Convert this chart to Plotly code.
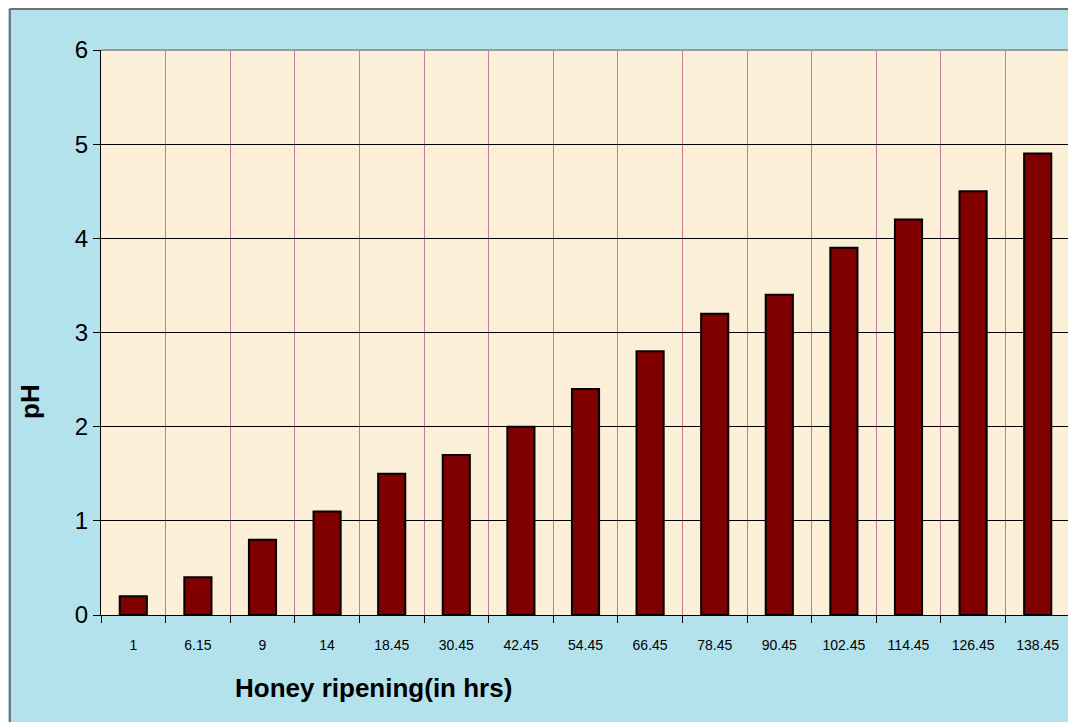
import plotly.graph_objects as go

hours = ["1", "6.15", "9", "14", "18.45", "30.45", "42.45", "54.45",
         "66.45", "78.45", "90.45", "102.45", "114.45", "126.45", "138.45"]
ph = [0.2, 0.4, 0.8, 1.1, 1.5, 1.7, 2.0, 2.4, 2.8, 3.2, 3.4, 3.9, 4.2, 4.5, 4.9]
y_ticks = [0, 1, 2, 3, 4, 5, 6]

fig = go.Figure(go.Bar(
    x=hours,
    y=ph,
    marker=dict(color="#800000", line=dict(color="black", width=2)),
))

# page body has an 8px margin, so the figure is 8px smaller than the window
fig.update_layout(
    width=1068,
    height=714,
    margin=dict(l=93, r=6, t=42, b=107),
    paper_bgcolor="#b3e2ed",
    plot_bgcolor="#fcefd8",
    bargap=0.58,
    showlegend=False,
    font=dict(family="Arial, Liberation Sans, sans-serif", color="black"),
)

fig.update_xaxes(
    type="category",
    tickson="boundaries",
    showgrid=True,
    gridcolor="#c77c98",
    gridwidth=1,
    ticks="outside",
    ticklen=7,
    tickcolor="black",
    ticklabelstandoff=17,
    tickfont=dict(size=14),
    showline=True,
    linecolor="black",
    linewidth=1,
)
fig.update_yaxes(
    range=[0, 6],
    tickvals=y_ticks,
    showgrid=True,
    gridcolor="black",
    gridwidth=1,
    zeroline=False,
    ticks="outside",
    ticklen=7,
    tickcolor="black",
    tickfont=dict(size=24),
    showline=True,
    linecolor="black",
    linewidth=1,
)

# plot frame (top/right in grey) and the outer chart frame
fig.add_shape(type="line", xref="paper", yref="paper", x0=0, x1=1, y0=1, y1=1,
              line=dict(color="#9a9a9a", width=2))
fig.add_shape(type="line", xref="paper", yref="paper", x0=1, x1=1, y0=0, y1=1,
              line=dict(color="#9a9a9a", width=2))
fig.add_shape(type="line", xref="paper", yref="paper",
              x0=-0.094, x1=1.01, y0=1.0726, y1=1.0726,
              line=dict(color="#707070", width=2))
fig.add_shape(type="line", xref="paper", yref="paper",
              x0=-0.094, x1=-0.094, y0=-0.3, y1=1.0726,
              line=dict(color="#707070", width=2))

fig.add_annotation(text="<b>Honey ripening(in hrs)</b>", xref="paper", yref="paper",
                   x=(373 - 101) / 969, y=(615 - 688) / 565, showarrow=False,
                   xanchor="center", yanchor="middle", font=dict(size=26))
fig.add_annotation(text="<b>pH</b>", xref="paper", yref="paper",
                   x=(30 - 101) / 969, y=(615 - 402) / 565, showarrow=False,
                   xanchor="center", yanchor="middle",
                   textangle=-90, font=dict(size=26))

fig.write_html("out.html")
